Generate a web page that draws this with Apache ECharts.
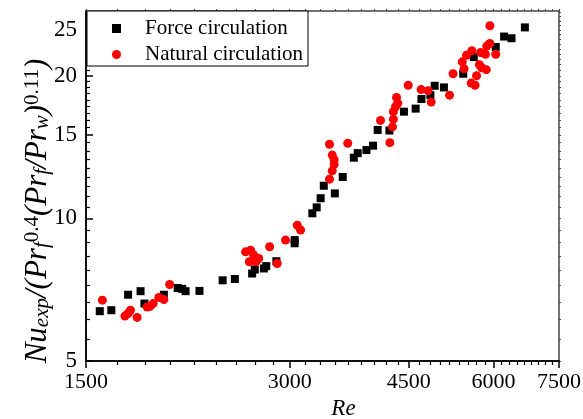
<!DOCTYPE html>
<html>
<head>
<meta charset="utf-8">
<script src="https://cdn.jsdelivr.net/npm/echarts@6/dist/echarts.min.js"></script>
<style>html,body{margin:0;padding:0;background:#fff;}#c{width:583px;height:419px;}</style>
</head>
<body>
<div id="c"></div>
<script>
// ---- data ----
const seriesNames = ['Force circulation', 'Natural circulation'];
const forceRe = [1572,1635,1731,1806,1830,1955,2049,2081,2105,2207,2388,2489,2640,2664,2748,2770,2867,3051,3051,3240,3288,3333,3369,3498,3593,3731,3781,3895,3984,4047,4212,4425,4605,4697,4842,4913,5070,5414,5612,6047,6222,6381,6678];
const forceNu = [6.37,6.40,6.90,7.02,6.61,6.90,7.13,7.10,7.02,7.03,7.40,7.45,7.65,7.80,7.84,7.93,8.12,8.86,9.00,10.25,10.55,11.03,11.72,11.29,12.23,13.43,13.73,13.94,14.24,15.37,15.33,16.8,17.05,17.86,18.2,19.05,18.9,20.2,21.9,23.0,24.2,24.0,25.3];
const naturalRe = [1586,1712,1731,1745,1785,1847,1865,1885,1922,1955,1994,2582,2627,2615,2654,2674,2700,2802,2875,2958,3078,3113,3435,3655,3467,3490,3490,3467,3435,4218,4256,4086,4269,4269,4300,4333,4315,4490,4692,4804,4855,5168,5230,5396,5430,5475,5575,5562,5637,5665,5721,5765,5745,5840,5856,5866,5928,6047,5928];
const naturalNu = [6.72,6.22,6.30,6.40,6.18,6.50,6.52,6.61,6.81,6.74,7.25,8.50,8.57,8.10,8.37,8.10,8.23,8.71,8.03,9.0,9.67,9.45,14.34,14.4,13.6,13.3,13.0,12.6,12.1,14.45,15.6,16.1,16.2,16.8,17.2,17.5,18.0,19.1,18.7,18.6,17.6,18.2,20.2,21.4,20.7,22.1,22.6,19.3,19.1,20.0,21.1,20.8,22.4,22.2,20.6,23.1,23.4,22.2,25.5];
const xTicks = [1500, 3000, 4500, 6000, 7500];
const yTicks = [5, 10, 15, 20, 25];
const xMin = 1500, xMax = 7500, yMin = 5, yMax = 27.4;

// minor ticks: 9 subdivisions per major step
function minors(ticks, maxV) {
  const out = [];
  const step = (ticks[1] - ticks[0]) / 9;
  for (let v = ticks[0] + step; v <= maxV + 1e-9; v += step) {
    const r = Math.round(v * 1000) / 1000;
    if (!ticks.some(t => Math.abs(t - r) < 1e-6)) out.push(r);
  }
  return out;
}
const xMinor = minors(xTicks, xMax);
const yMinor = minors(yTicks, yMax);
const yAllTicks = yMinor.concat(yTicks).sort((a, b) => a - b);
const xAllTicks = xMinor.concat(xTicks).sort((a, b) => a - b);

const FF = '"Liberation Serif", "Times New Roman", serif';
const chart = echarts.init(document.getElementById('c'), null, {renderer: 'canvas'});

const zip = (a, b) => a.map((v, i) => [v, b[i]]);
const plain = v => String(Math.round(v));

const yName = '{m|Nu}{sb|exp}{m|/(}{m|Pr}{sb|f}{sp|0.4}{m|(}{m|Pr}{sb|f}{m|/}{m|Pr}{sb|w}{m|)}{sp|0.11}{m|)}';

const frameLine = {show: true, lineStyle: {color: '#444', width: 1.5}};

chart.setOption({
  animation: false,
  backgroundColor: '#fff',
  grid: {left: 86, right: 24, top: 11, bottom: 58, containLabel: false, outerBoundsMode: 'none'},
  legend: {
    left: 87, top: 11, orient: 'vertical',
    data: [{name: seriesNames[0], icon: 'rect'}, {name: seriesNames[1], icon: 'circle'}],
    itemWidth: 9, itemHeight: 9, itemGap: 5,
    borderColor: '#000', borderWidth: 1, borderRadius: 0,
    backgroundColor: '#fff',
    padding: [7, 5, 1, 25],
    textStyle: {fontFamily: FF, fontSize: 21, color: '#000', lineHeight: 21, padding: [0, 0, 0, 19]}
  },
  xAxis: [
    {
      type: 'log', logBase: 10, min: xMin, max: xMax, position: 'bottom',
      name: 'Re', nameLocation: 'middle', nameGap: 34,
      nameTextStyle: {fontFamily: FF, fontSize: 23, fontStyle: 'italic', color: '#000', padding: [0, 0, 0, 42]},
      axisLine: {show: true, onZero: false, lineStyle: {color: '#000', width: 1.5}},
      axisTick: {show: true, inside: false, length: 7, customValues: xTicks, lineStyle: {color: '#000', width: 1.5}},
      axisLabel: {show: true, customValues: xTicks, formatter: plain, fontFamily: FF, fontSize: 22, color: '#000', margin: 10},
      splitLine: {show: false}, minorTick: {show: false}, minorSplitLine: {show: false}
    },
    {
      type: 'log', logBase: 10, min: xMin, max: xMax, position: 'bottom',
      axisLine: {show: true, onZero: false, lineStyle: {color: '#000', width: 1.5}},
      axisTick: {show: true, inside: false, length: 4, customValues: xMinor, lineStyle: {color: '#000', width: 1.2}},
      axisLabel: {show: false}, splitLine: {show: false}
    },
    {
      type: 'log', logBase: 10, min: xMin, max: xMax, position: 'top',
      axisLine: frameLine,
      axisTick: {show: true, inside: false, length: 2, customValues: xAllTicks, lineStyle: {color: '#444', width: 1}},
      axisLabel: {show: false}, splitLine: {show: false}
    }
  ],
  yAxis: [
    {
      type: 'log', logBase: 10, min: yMin, max: yMax, position: 'left',
      name: yName, nameLocation: 'middle', nameRotate: 90, nameGap: 33, nameMoveOverlap: false,
      nameTextStyle: {
        color: '#000', padding: [0, 50, 0, 0],
        rich: {
          m: {fontFamily: FF, fontSize: 31, fontStyle: 'italic', color: '#000', lineHeight: 31, verticalAlign: 'middle'},
          sb: {fontFamily: FF, fontSize: 21, fontStyle: 'italic', color: '#000', lineHeight: 21, verticalAlign: 'bottom'},
          sp: {fontFamily: FF, fontSize: 21, color: '#000', lineHeight: 21, verticalAlign: 'top'}
        }
      },
      axisLine: {show: true, onZero: false, lineStyle: {color: '#000', width: 1.5}},
      axisTick: {show: true, inside: true, length: 7, customValues: yTicks, lineStyle: {color: '#000', width: 1.5}},
      axisLabel: {show: true, customValues: yTicks, formatter: plain, fontFamily: FF, fontSize: 23, color: '#000', margin: 9},
      splitLine: {show: false}, minorTick: {show: false}
    },
    {
      type: 'log', logBase: 10, min: yMin, max: yMax, position: 'left',
      axisLine: {show: true, onZero: false, lineStyle: {color: '#000', width: 1.5}},
      axisTick: {show: true, inside: true, length: 4, customValues: yMinor, lineStyle: {color: '#000', width: 1.2}},
      axisLabel: {show: false}, splitLine: {show: false}
    },
    {
      type: 'log', logBase: 10, min: yMin, max: yMax, position: 'right',
      axisLine: frameLine,
      axisTick: {show: true, inside: false, length: 2, customValues: yAllTicks, lineStyle: {color: '#444', width: 1}},
      axisLabel: {show: false}, splitLine: {show: false}
    }
  ],
  series: [
    {
      name: seriesNames[0], type: 'scatter', xAxisIndex: 0, yAxisIndex: 0,
      symbol: 'rect', symbolSize: 8, itemStyle: {color: '#000', opacity: 1},
      data: zip(forceRe, forceNu), z: 3
    },
    {
      name: seriesNames[1], type: 'scatter', xAxisIndex: 0, yAxisIndex: 1,
      symbol: 'circle', symbolSize: 9, itemStyle: {color: '#ff0000', opacity: 1},
      data: zip(naturalRe, naturalNu), z: 4
    }
  ]
});
</script>
</body>
</html>
